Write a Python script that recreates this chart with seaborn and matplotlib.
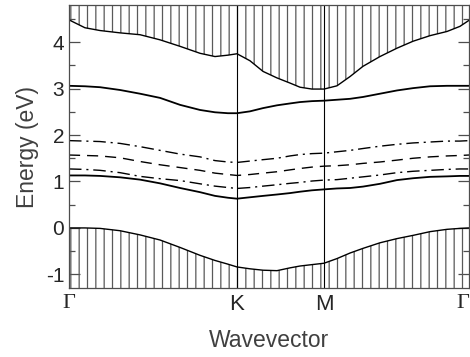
import numpy as np
import pandas as pd
import matplotlib
matplotlib.use('Agg')
import matplotlib.pyplot as plt
import seaborn as sns

# positions along the path (Gamma=0, K=1, M=1.52, Gamma=2.38)
kpath = [0.0, 0.095, 0.185, 0.304, 0.423, 0.542, 0.661, 0.780, 0.869, 0.946,
         1.0, 1.077, 1.155, 1.238, 1.315, 1.375, 1.446, 1.518, 1.595, 1.673,
         1.750, 1.851, 1.952, 2.048, 2.149, 2.250, 2.327, 2.381]
kpoints = [0.0, 1.0, 1.518, 2.381]
klabels = ['Γ', 'K', 'M', 'Γ']

upper_edge = [4.48, 4.31, 4.25, 4.20, 4.16, 4.05, 3.91, 3.76, 3.69, 3.72,
              3.75, 3.60, 3.37, 3.23, 3.12, 3.03, 2.99, 2.99, 3.06, 3.26,
              3.48, 3.69, 3.87, 4.02, 4.14, 4.23, 4.34, 4.47]
band_top = [3.06, 3.05, 3.03, 2.97, 2.89, 2.80, 2.65, 2.54, 2.49, 2.47,
            2.47, 2.51, 2.58, 2.64, 2.68, 2.71, 2.73, 2.74, 2.76, 2.78,
            2.82, 2.89, 2.96, 3.01, 3.05, 3.06, 3.06, 3.06]
dashdot_top = [1.88, 1.87, 1.86, 1.82, 1.75, 1.67, 1.59, 1.53, 1.45, 1.42,
               1.41, 1.44, 1.47, 1.50, 1.55, 1.58, 1.60, 1.61, 1.64, 1.67,
               1.71, 1.76, 1.80, 1.83, 1.85, 1.87, 1.87, 1.88]
dashed_mid = [1.57, 1.56, 1.55, 1.51, 1.43, 1.36, 1.30, 1.24, 1.18, 1.15,
              1.13, 1.15, 1.18, 1.21, 1.25, 1.28, 1.31, 1.33, 1.34, 1.36,
              1.39, 1.42, 1.46, 1.50, 1.53, 1.55, 1.56, 1.57]
dashdot_low = [1.27, 1.26, 1.24, 1.19, 1.11, 1.06, 1.02, 0.95, 0.90, 0.87,
               0.85, 0.87, 0.90, 0.93, 0.96, 0.98, 1.01, 1.03, 1.04, 1.07,
               1.10, 1.14, 1.19, 1.22, 1.24, 1.26, 1.27, 1.27]
band_low = [1.13, 1.13, 1.12, 1.09, 1.04, 0.96, 0.86, 0.77, 0.69, 0.65,
            0.63, 0.66, 0.69, 0.72, 0.75, 0.78, 0.81, 0.83, 0.85, 0.86,
            0.89, 0.95, 1.03, 1.07, 1.10, 1.11, 1.12, 1.12]
lower_edge = [0.0, 0.0, -0.01, -0.06, -0.15, -0.26, -0.42, -0.59, -0.70, -0.78,
              -0.84, -0.88, -0.91, -0.92, -0.86, -0.82, -0.79, -0.76, -0.66, -0.54,
              -0.44, -0.32, -0.23, -0.16, -0.08, -0.03, -0.01, 0.0]

sns.set_style('ticks')
plt.rcParams['font.family'] = ['Liberation Sans', 'DejaVu Sans']
plt.rcParams['axes.unicode_minus'] = False
plt.rcParams['hatch.linewidth'] = 0.9
plt.rcParams['hatch.color'] = '0.35'

df = pd.DataFrame({'k': kpath, 'upper': upper_edge, 'top': band_top,
                   'dd1': dashdot_top, 'dash': dashed_mid, 'dd2': dashdot_low,
                   'low': band_low, 'lower': lower_edge})

fig = plt.figure(figsize=(4.7, 3.57), dpi=100)
ax = fig.add_axes([0.1468, 0.1924, 0.8511, 0.7936])
ymin, ymax = -1.3, 4.8

# continuum regions
ax.fill_between(df['k'], df['upper'], 10, facecolor='none', edgecolor='0.35',
                hatch='||', linewidth=0)
ax.fill_between(df['k'], -10, df['lower'], facecolor='none', edgecolor='0.35',
                hatch='||', linewidth=0)

sns.lineplot(data=df, x='k', y='upper', ax=ax, color='k', linewidth=1.0)
sns.lineplot(data=df, x='k', y='lower', ax=ax, color='k', linewidth=1.0)
sns.lineplot(data=df, x='k', y='top', ax=ax, color='k', linewidth=1.3)
sns.lineplot(data=df, x='k', y='low', ax=ax, color='k', linewidth=1.3)
sns.lineplot(data=df, x='k', y='dd1', ax=ax, color='k', linewidth=1.0,
             linestyle=(0, (9, 3.5, 1.5, 3.5)))
sns.lineplot(data=df, x='k', y='dd2', ax=ax, color='k', linewidth=1.0,
             linestyle=(0, (9, 3.5, 1.5, 3.5)))
sns.lineplot(data=df, x='k', y='dash', ax=ax, color='k', linewidth=1.0,
             linestyle=(0, (8, 5)))

for kp in kpoints[1:-1]:
    ax.axvline(kp, color='k', linewidth=0.8)

ax.set_xlim(kpoints[0], kpoints[-1])
ax.set_ylim(ymin, ymax)
ax.set_xticks(kpoints)
ax.set_xticklabels(klabels)
xlabs = ax.get_xticklabels()
for lab in xlabs:
    if lab.get_text() == 'Γ':
        lab.set_family(['Liberation Serif', 'DejaVu Serif'])
xlabs[-1].set_horizontalalignment('right')
ax.set_yticks([-1, 0, 1, 2, 3, 4])
ax.set_yticks(np.arange(-1, 4.6, 0.5), minor=True)
ax.tick_params(axis='y', which='both', direction='in', left=True, right=True,
               color='0.3', labelsize=15, width=0.9, labelcolor='0.15')
ax.tick_params(axis='y', which='major', length=8)
ax.tick_params(axis='y', which='minor', length=4)
ax.tick_params(axis='x', length=0, labelsize=16, pad=4, labelcolor='0.15')
for sp in ax.spines.values():
    sp.set_color('0.3')
    sp.set_linewidth(0.9)

ax.set_xlabel('Wavevector', fontsize=16.5, color='0.25', labelpad=10)
ax.set_ylabel('Energy (eV)', fontsize=16.5, color='0.25', labelpad=5)

fig.savefig('out.png', dpi=100)
